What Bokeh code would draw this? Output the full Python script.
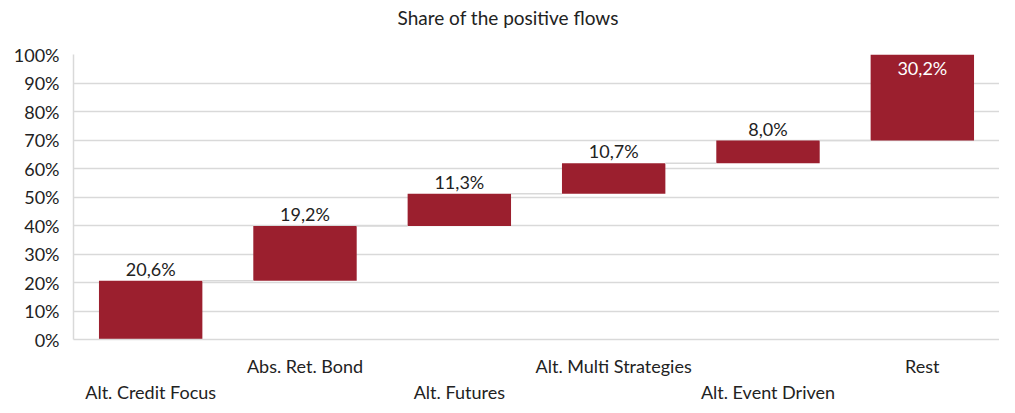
from bokeh.plotting import figure
from bokeh.models import (ColumnDataSource, FixedTicker, PrintfTickFormatter, Range1d, Title)
from bokeh.embed import file_html
from bokeh.resources import INLINE
import numpy as np

title_text = "Share of the positive flows"
categories = ["Alt. Credit Focus", "Abs. Ret. Bond", "Alt. Futures",
              "Alt. Multi Strategies", "Alt. Event Driven", "Rest"]
shares = [20.6, 19.2, 11.3, 10.7, 8.0, 30.2]
share_labels = ["20,6%", "19,2%", "11,3%", "10,7%", "8,0%", "30,2%"]
y_ticks = [0, 10, 20, 30, 40, 50, 60, 70, 80, 90, 100]

FONT = "Lato"
RED = "#9B1F2E"
GRID = "#d9d9d9"
TXT = "#222222"

x = np.arange(len(categories))
tops = np.cumsum(shares)
bottoms = tops - np.array(shares)

p = figure(width=999, height=405, output_backend="svg", toolbar_location=None,
           x_range=Range1d(-0.5, len(categories) - 0.5), y_range=Range1d(0, 100),
           min_border_left=73, min_border_right=0, min_border_top=54, min_border_bottom=60)
p.outline_line_color = None

t = Title(text=title_text + "\n", align="left", offset=324,
          text_font=FONT, text_font_size="19px", text_font_style="normal",
          text_color=TXT, standoff=6)
p.add_layout(t, "above")

src = ColumnDataSource(dict(x=x, top=tops, bottom=bottoms, lab=share_labels))
p.vbar(x="x", top="top", bottom="bottom", width=0.67, source=src,
       fill_color=RED, line_color=None)

# connectors
cx0 = x[:-1] + 0.335
cx1 = x[1:] - 0.335
p.segment(x0=cx0, y0=tops[:-1], x1=cx1, y1=tops[:-1], line_color=GRID, line_width=1.5)

# value labels
n = len(categories)
outside = ColumnDataSource(dict(x=x[:n-1], y=tops[:n-1], lab=share_labels[:n-1]))
p.text(x="x", y="y", text="lab", source=outside, text_align="center",
       text_baseline="bottom", y_offset=-1, text_font={"value": FONT},
       text_font_size="18px", text_color=TXT)
inside = ColumnDataSource(dict(x=x[n-1:], y=tops[n-1:], lab=share_labels[n-1:]))
p.text(x="x", y="y", text="lab", source=inside, text_align="center",
       text_baseline="top", y_offset=2, text_font={"value": FONT},
       text_font_size="18px", text_color="white")

# axes
p.xgrid.grid_line_color = None
p.ygrid.grid_line_color = GRID
p.ygrid.grid_line_width = 1.5
p.ygrid.ticker = FixedTicker(ticks=y_ticks)

p.yaxis.ticker = FixedTicker(ticks=y_ticks)
p.yaxis.formatter = PrintfTickFormatter(format="%d%%")
p.yaxis.axis_line_color = GRID
p.yaxis.axis_line_width = 1.5
p.yaxis.major_tick_line_color = None
p.yaxis.minor_tick_line_color = None
p.yaxis.major_label_text_font = FONT
p.yaxis.major_label_text_font_size = "18px"
p.yaxis.major_label_text_color = TXT
p.yaxis.major_label_standoff = 8

overrides = {}
for i, c in enumerate(categories):
    overrides[int(i)] = ("\n" + c) if i % 2 == 0 else c
p.xaxis.ticker = FixedTicker(ticks=list(range(n)))
p.xaxis.major_label_overrides = overrides
p.xaxis.axis_line_color = GRID
p.xaxis.axis_line_width = 1.5
p.xaxis.major_tick_line_color = None
p.xaxis.minor_tick_line_color = None
p.xaxis.major_label_text_font = FONT
p.xaxis.major_label_text_font_size = "18px"
p.xaxis.major_label_text_color = TXT
p.xaxis.major_label_standoff = 9

open("out.html", "w").write(file_html(p, INLINE))
